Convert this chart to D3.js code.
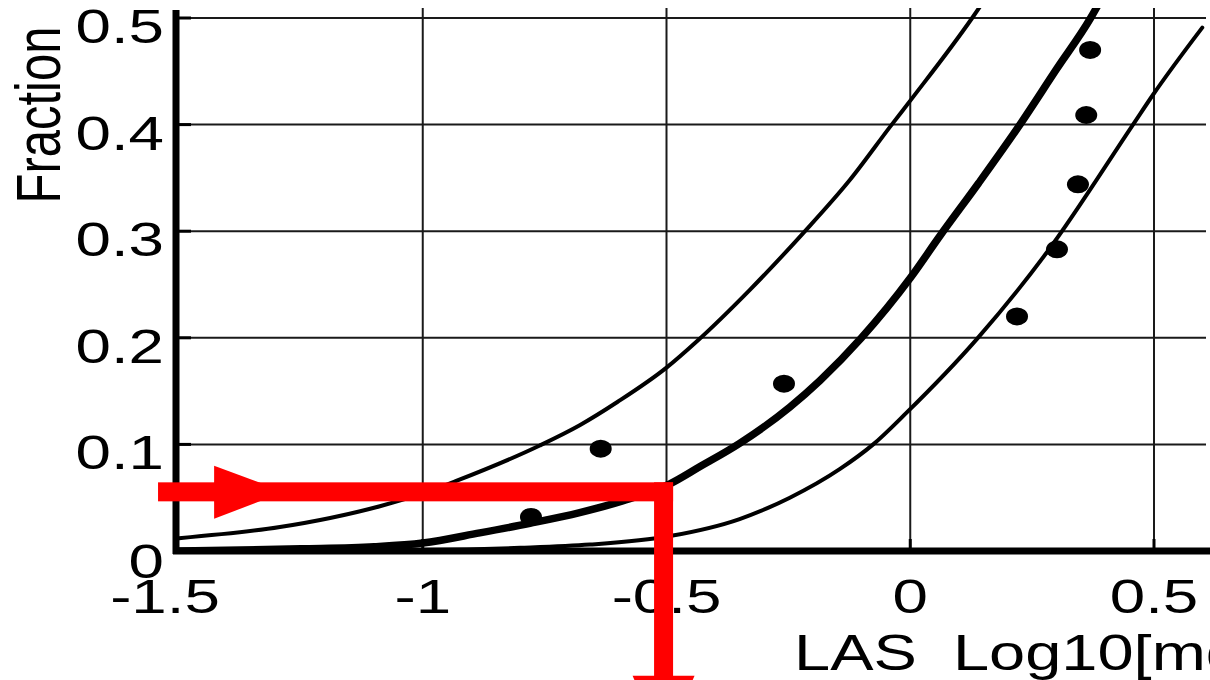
<!DOCTYPE html>
<html>
<head>
<meta charset="utf-8">
<script src="https://cdn.jsdelivr.net/npm/d3@7"></script>
<style>
  html, body { margin: 0; padding: 0; background: #fff; overflow: hidden; }
  svg { display: block; }
  text { font-family: "Liberation Sans", Arial, sans-serif; fill: #000; }
</style>
</head>
<body>
<svg id="chart" width="1210" height="680"></svg>
<script>
// ---------- data ----------
const xTickValues = [-1.5, -1, -0.5, 0, 0.5];
const xTickLabels = ["-1.5", "-1", "-0.5", "0", "0.5"];
const yTickValues = [0, 0.1, 0.2, 0.3, 0.4, 0.5];
const yTickLabels = ["0", "0.1", "0.2", "0.3", "0.4", "0.5"];
const xTitle = "LAS  Log10[mg/L]";
const yTitle = "Fraction";

// upper thin curve
const upperX = [-1.5, -1.293, -1.19, -1.088, -1.0, -0.93, -0.76, -0.678, -0.6, -0.5, -0.437, -0.329, -0.22, -0.124, -0.038, 0.006, 0.127, 0.145];
const upperY = [0.012, 0.0225, 0.031, 0.042, 0.054, 0.066, 0.099, 0.118, 0.140, 0.172, 0.197, 0.245, 0.298, 0.348, 0.400, 0.426, 0.500, 0.512];
// central thick curve
const midX = [-1.5, -1.25, -1.1, -1.0, -0.883, -0.78, -0.678, -0.59, -0.493, -0.432, -0.35, -0.247, -0.185, -0.1, 0.0, 0.06, 0.14, 0.225, 0.30, 0.37, 0.385];
const midY = [0.0, 0.002, 0.004, 0.0075, 0.017, 0.026, 0.036, 0.047, 0.063, 0.079, 0.101, 0.135, 0.160, 0.200, 0.256, 0.295, 0.345, 0.400, 0.452, 0.500, 0.512];
// lower thin curve
const lowerX = [-1.5, -1.0, -0.8, -0.657, -0.493, -0.35, -0.247, -0.144, -0.076, -0.007, 0.137, 0.28, 0.457, 0.498, 0.599];
const lowerY = [0.0, 0.001, 0.003, 0.006, 0.014, 0.030, 0.050, 0.077, 0.100, 0.130, 0.199, 0.280, 0.400, 0.428, 0.491];
// observed points
const dotX = [-0.778, -0.635, -0.259, 0.219, 0.301, 0.344, 0.361, 0.369];
const dotY = [0.032, 0.096, 0.157, 0.220, 0.283, 0.344, 0.409, 0.470];
// red read-off annotation (arrow in from the y axis, down to the x axis)
const annoX = -0.506;
const annoY = 0.0555;
const arrowStartX = -1.543;
const arrowHeadBaseX = -1.428;
const arrowHeadTipX = -1.284;
const downEndY = -0.125;
const downHeadBaseY = -0.117;

// ---------- layout ----------
const W = 1210, H = 680;
const svg = d3.select("#chart");
svg.append("rect").attr("width", W).attr("height", H).attr("fill", "#fff");

const x = d3.scaleLinear().domain([-1.5, 0.5]).range([179, 1154]);
const y = d3.scaleLinear().domain([0, 0.5]).range([551, 18]);

const plotLeft = 176, plotRight = 1206, plotTop = 8, plotBottom = 551;
const SX = 1.3; // horizontal stretch of the original image

svg.append("clipPath").attr("id", "clip")
  .append("rect").attr("x", plotLeft).attr("y", plotTop)
  .attr("width", plotRight - plotLeft).attr("height", plotBottom - plotTop);

// grid
const grid = svg.append("g").attr("stroke", "#1a1a1a").attr("stroke-width", 2);
xTickValues.filter(v => v > -1.5).forEach(v => {
  grid.append("line").attr("x1", x(v)).attr("x2", x(v)).attr("y1", plotTop).attr("y2", plotBottom);
});
yTickValues.filter(v => v > 0).forEach(v => {
  grid.append("line").attr("x1", plotLeft).attr("x2", plotRight).attr("y1", y(v)).attr("y2", y(v));
});

// curves
const line = d3.line().x(d => x(d[0])).y(d => y(d[1])).curve(d3.curveMonotoneX);
const curves = svg.append("g").attr("clip-path", "url(#clip)").attr("fill", "none").attr("stroke", "#000")
  .attr("stroke-linejoin", "round").attr("stroke-linecap", "round");
curves.append("path").attr("d", line(d3.zip(upperX, upperY))).attr("stroke-width", 4);
curves.append("path").attr("d", line(d3.zip(lowerX, lowerY))).attr("stroke-width", 4);
curves.append("path").attr("d", line(d3.zip(midX, midY))).attr("stroke-width", 7.5);

// dots
svg.append("g").selectAll("ellipse").data(d3.zip(dotX, dotY)).join("ellipse")
  .attr("cx", d => x(d[0])).attr("cy", d => y(d[1]))
  .attr("rx", 11).attr("ry", 9).attr("fill", "#000");

// axes lines
svg.append("line").attr("x1", plotLeft).attr("x2", plotLeft).attr("y1", plotTop + 2).attr("y2", plotBottom + 3)
  .attr("stroke", "#000").attr("stroke-width", 7);
svg.append("line").attr("x1", plotLeft - 3).attr("x2", W).attr("y1", plotBottom).attr("y2", plotBottom)
  .attr("stroke", "#000").attr("stroke-width", 7);

// ticks
const ticks = svg.append("g").attr("stroke", "#000").attr("stroke-width", 3);
yTickValues.filter(v => v > 0).forEach(v => {
  ticks.append("line").attr("x1", plotLeft).attr("x2", plotLeft + 15).attr("y1", y(v)).attr("y2", y(v));
});
xTickValues.filter(v => v > -1.5).forEach(v => {
  ticks.append("line").attr("x1", x(v)).attr("x2", x(v)).attr("y1", plotBottom).attr("y2", plotBottom - 12);
});

// tick labels
const FS = 49;
svg.append("g").selectAll("text").data(d3.zip(yTickValues, yTickLabels)).join("text")
  .attr("transform", d => `translate(164,${y(d[0]) + (d[0] === 0 ? 27 : 25)}) scale(${SX},1)`)
  .attr("text-anchor", "end").attr("font-size", FS).text(d => d[1]);
svg.append("g").selectAll("text").data(d3.zip(xTickValues, xTickLabels)).join("text")
  .attr("transform", d => `translate(${x(d[0]) - (d[0] === -1.5 ? 14 : 0)},613) scale(${SX},1)`)
  .attr("text-anchor", "middle").attr("font-size", FS).text(d => d[1]);

// titles
svg.append("text").attr("transform", `translate(794,670) scale(${SX},1)`)
  .attr("font-size", 50).style("white-space", "pre").text(xTitle);
svg.append("text").attr("transform", `translate(60,115) scale(${SX},1) rotate(-90)`)
  .attr("text-anchor", "middle").attr("font-size", 49).text(yTitle);

// red annotation
const red = svg.append("g").attr("fill", "#ff0000").attr("stroke", "none");
const barW = 19;
// horizontal bar
red.append("rect").attr("x", x(arrowStartX)).attr("y", y(annoY) - barW / 2)
  .attr("width", x(annoX) + barW / 2 - x(arrowStartX)).attr("height", barW);
// vertical bar
red.append("rect").attr("x", x(annoX) - barW / 2).attr("y", y(annoY) - barW / 2)
  .attr("width", barW).attr("height", y(downEndY) - y(annoY) + barW / 2);
// right-pointing head
red.append("path").attr("d", d3.line()([
  [x(arrowHeadBaseX), y(annoY) - 26], [x(arrowHeadTipX), y(annoY)], [x(arrowHeadBaseX), y(annoY) + 27]
]) + "Z");
// down-pointing head (cut by the image edge)
red.append("path").attr("d", d3.line()([
  [x(annoX) - 31, y(downHeadBaseY)], [x(annoX) + 31, y(downHeadBaseY)], [x(annoX), y(downHeadBaseY) + 70]
]) + "Z");
</script>
</body>
</html>
